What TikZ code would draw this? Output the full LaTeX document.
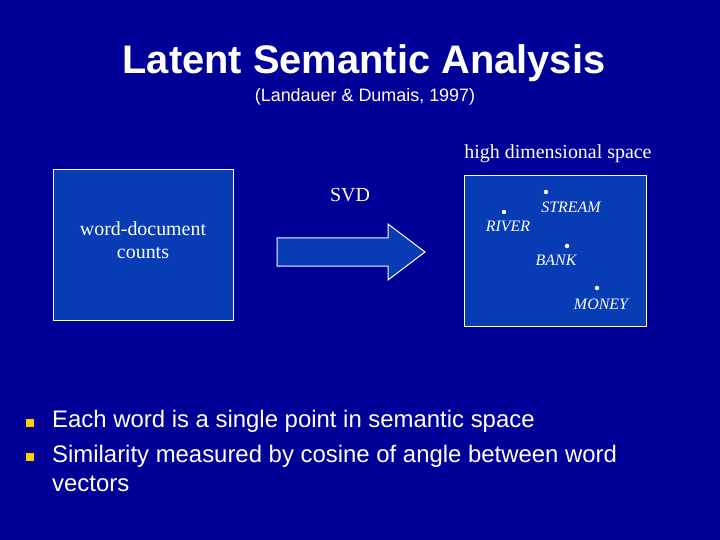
\documentclass[tikz,border=0pt]{standalone}
\usepackage{fontspec}
\setmainfont{Liberation Serif}
\setsansfont{Liberation Sans}
\definecolor{bg}{RGB}{0,0,153}
\definecolor{boxfill}{RGB}{8,60,180}
\definecolor{bullet}{RGB}{255,204,0}
\begin{document}
\begin{tikzpicture}[x=1bp,y=-1bp,
  panel/.style={draw=white,line width=1bp,fill=boxfill},
  serif/.style={text=white,font=\fontsize{20}{23}\selectfont,inner sep=0pt},
  word/.style={text=white,font=\fontsize{16}{19}\selectfont\itshape,inner sep=0pt},
  dot/.style={circle,fill=white,inner sep=0pt,minimum size=4.5bp},
  sans/.style={text=white,font=\sffamily\fontsize{24}{28}\selectfont,inner sep=0pt,anchor=west},
  bul/.style={fill=bullet,inner sep=0pt,minimum size=8.5bp}]
\fill[bg] (0,0) rectangle (720,540);
\useasboundingbox (0,0) rectangle (720,540);
\node[text=white,font=\sffamily\bfseries\fontsize{40}{46}\selectfont,inner sep=0pt] (title) at (364,63) {Latent Semantic Analysis};
\node[text=white,font=\sffamily\fontsize{18}{21}\selectfont,inner sep=0pt] (sub) at (365,97) {(Landauer \& Dumais, 1997)};
\node[serif] (hds) at (558,154) {high dimensional space};
% left box
\draw[panel] (53,170) rectangle (233,320);
\node[serif,align=center] (wdc) at (143,240) {word-document\\[0pt]counts};
\node[serif] (svd) at (350,195) {SVD};
% arrow
\draw[panel,line join=miter] (277,238) -- (388,238) -- (388,224) -- (425,252) -- (388,280) -- (388,266) -- (277,266) -- cycle;
% right box
\draw[panel] (464,176) rectangle (646,326);
\node[dot] (d1) at (546,192) {};
\node[word] (l1) at (571,207) {STREAM};
\node[dot] (d2) at (504,212) {};
\node[word] (l2) at (508,226) {RIVER};
\node[dot] (d3) at (567,246) {};
\node[word] (l3) at (556,260) {BANK};
\node[dot] (d4) at (597,288) {};
\node[word] (l4) at (601,304) {MONEY};
% bullets
\node[bul] (b1) at (30,423) {};
\node[bul] (b2) at (30,457) {};
\node[sans] (t1) at (52,421) {Each word is a single point in semantic space};
\node[sans] (t2) at (52,456) {Similarity measured by cosine of angle between word};
\node[sans] (t3) at (52,484) {vectors};
\end{tikzpicture}
\end{document}
